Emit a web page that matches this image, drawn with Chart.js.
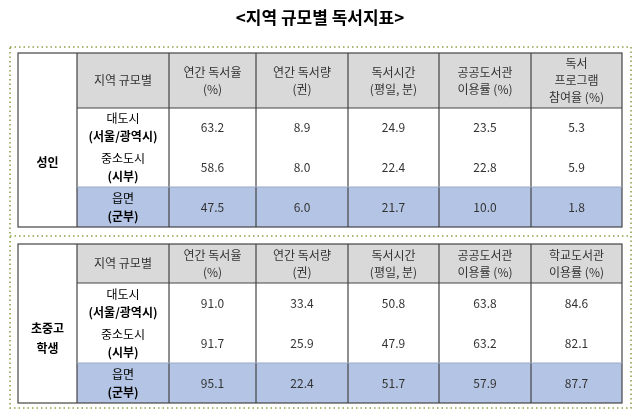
<!DOCTYPE html>
<html>
<head>
<meta charset="utf-8">
<script src="https://cdn.jsdelivr.net/npm/chart.js@4"></script>
<style>
  html, body { margin: 0; padding: 0; background: #fff; }
  #wrap { width: 640px; height: 418px; }
</style>
</head>
<body>
<div id="wrap"><canvas id="chart"></canvas></div>
<script>
const title = "<지역 규모별 독서지표>"
const groups = ["성인", "초중고\n학생"]
const regions = [["대도시", "(서울/광역시)"], ["중소도시", "(시부)"], ["읍면", "(군부)"]]
const headers1 = ["지역 규모별", "연간 독서율\n(%)", "연간 독서량\n(권)", "독서시간\n(평일, 분)", "공공도서관\n이용률 (%)", "독서\n프로그램\n참여율 (%)"]
const headers2 = ["지역 규모별", "연간 독서율\n(%)", "연간 독서량\n(권)", "독서시간\n(평일, 분)", "공공도서관\n이용률 (%)", "학교도서관\n이용률 (%)"]
const adultValues = [
  ["63.2", "8.9", "24.9", "23.5", "5.3"],
  ["58.6", "8.0", "22.4", "22.8", "5.9"],
  ["47.5", "6.0", "21.7", "10.0", "1.8"],
]
const studentValues = [
  ["91.0", "33.4", "50.8", "63.8", "84.6"],
  ["91.7", "25.9", "47.9", "63.2", "82.1"],
  ["95.1", "22.4", "51.7", "57.9", "87.7"],
]

// layout in picture units (converted through the chart scales)
const colEdges = [18, 77, 169, 256, 348, 439, 531, 622]
const tables = [
  { group: groups[0], headers: headers1, values: adultValues, top: 53, head: 108, rows: [108, 147, 187, 227] },
  { group: groups[1], headers: headers2, values: studentValues, top: 244, head: 283, rows: [283, 323, 363, 403] },
]

const FONT = '"Noto Sans CJK KR", "Noto Sans", sans-serif'

const tablePlugin = {
  id: "tablePlugin",
  afterDraw(chart) {
    const ctx = chart.ctx
    const xs = chart.scales.x, ys = chart.scales.y
    const X = v => xs.getPixelForValue(v)
    const Y = v => ys.getPixelForValue(v)
    ctx.save()

    // title
    ctx.fillStyle = "#000"
    ctx.font = "bold 17px " + FONT
    ctx.textAlign = "center"
    ctx.textBaseline = "middle"
    ctx.fillText(title, X(320), Y(18))

    // dotted frame
    ctx.strokeStyle = "#8da24a"
    ctx.lineWidth = 1.6
    ctx.setLineDash([1.5, 3])
    ctx.strokeRect(X(10), Y(47), X(631) - X(10), Y(408) - Y(47))
    ctx.beginPath()
    ctx.moveTo(X(10), Y(236)); ctx.lineTo(X(631), Y(236))
    ctx.stroke()
    ctx.setLineDash([])

    const multi = (text, cx, cy, lh, boldLines) => {
      const lines = Array.isArray(text) ? text : text.split("\n")
      lines.forEach((ln, i) => {
        ctx.font = (boldLines && boldLines[i] ? "bold " : "") + "12px " + FONT
        ctx.fillText(ln, cx, cy + (i - (lines.length - 1) / 2) * lh)
      })
    }

    tables.forEach(t => {
      const left = colEdges[0], right = colEdges[colEdges.length - 1]
      // header fill
      ctx.fillStyle = "#d9d9d9"
      ctx.fillRect(X(colEdges[1]), Y(t.top), X(right) - X(colEdges[1]), Y(t.head) - Y(t.top))
      // blue row
      ctx.fillStyle = "#b4c4e4"
      ctx.fillRect(X(colEdges[1]), Y(t.rows[2]), X(right) - X(colEdges[1]), Y(t.rows[3]) - Y(t.rows[2]))

      // lines
      ctx.strokeStyle = "#444"
      ctx.lineWidth = 1.2
      ctx.strokeRect(X(left), Y(t.top), X(right) - X(left), Y(t.rows[3]) - Y(t.top))
      ctx.beginPath()
      colEdges.slice(1, -1).forEach(c => { ctx.moveTo(X(c), Y(t.top)); ctx.lineTo(X(c), Y(t.rows[3])) })
      ctx.moveTo(X(colEdges[1]), Y(t.head)); ctx.lineTo(X(right), Y(t.head))
      ctx.stroke()
      ctx.strokeStyle = "#9aa9c8"
      ctx.lineWidth = 1
      ctx.beginPath()
      ctx.moveTo(X(colEdges[1]), Y(t.rows[2])); ctx.lineTo(X(right), Y(t.rows[2]))
      ctx.stroke()

      ctx.textAlign = "center"
      ctx.textBaseline = "middle"
      // group label
      ctx.fillStyle = "#000"
      multi(t.group, X((colEdges[0] + colEdges[1]) / 2), Y((t.head + t.rows[3]) / 2 - 5), 20, [true, true])
      // headers
      ctx.fillStyle = "#333"
      t.headers.forEach((h, i) => {
        multi(h, X((colEdges[i + 1] + colEdges[i + 2]) / 2), Y((t.top + t.head) / 2), 17)
      })
      // rows
      regions.forEach((r, ri) => {
        const cy = (t.rows[ri] + t.rows[ri + 1]) / 2
        ctx.fillStyle = "#000"
        multi(r, X((colEdges[1] + colEdges[2]) / 2), Y(cy), 18, [false, true])
        ctx.fillStyle = "#333"
        t.values[ri].forEach((v, ci) => {
          ctx.font = "12px " + FONT
          ctx.fillText(v, X((colEdges[ci + 2] + colEdges[ci + 3]) / 2), Y(cy))
        })
      })
    })
    ctx.restore()
  }
}

new Chart(document.getElementById("chart"), {
  type: "scatter",
  data: { datasets: [{ data: [] }] },
  options: {
    responsive: true,
    maintainAspectRatio: false,
    animation: false,
    layout: { padding: 0 },
    scales: {
      x: { type: "linear", min: 0, max: 640, display: false },
      y: { type: "linear", min: 0, max: 418, reverse: true, display: false },
    },
    plugins: { legend: { display: false }, tooltip: { enabled: false } },
  },
  plugins: [tablePlugin],
})
</script>
</body>
</html>
